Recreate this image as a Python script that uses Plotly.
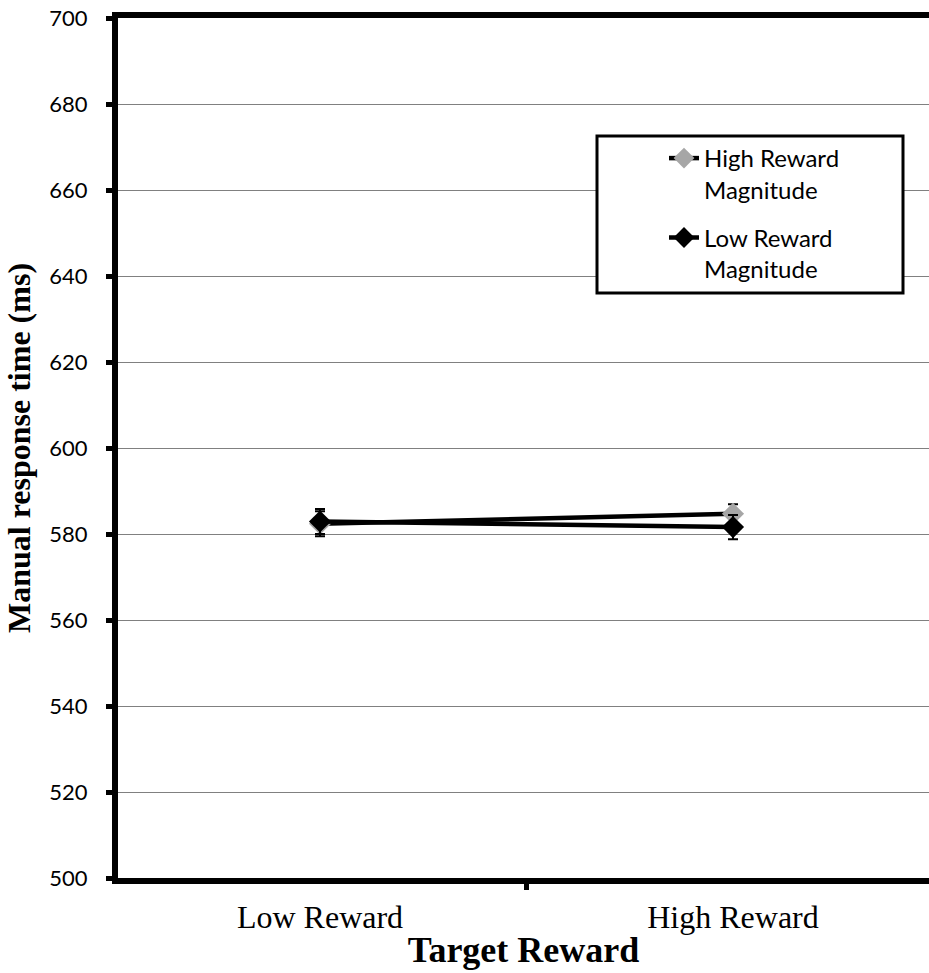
import plotly.graph_objects as go

# Mean manual response times (ms) with standard errors
categories = ["Low Reward", "High Reward"]
high_mag_rt = [582.4, 584.7]
high_mag_err = [2.9, 2.2]
low_mag_rt = [582.9, 581.6]
low_mag_err = [2.9, 2.8]
y_ticks = [500, 520, 540, 560, 580, 600, 620, 640, 660, 680, 700]

W, H = 929, 973
ML, MR, MT, MB = 118, 0, 18, 95
plot_w = W - ML - MR
plot_h = H - MT - MB
cat_px = 413  # pixel distance between the two categories
x0 = -(320 - ML) / cat_px
x1 = x0 + plot_w / cat_px


def px_x(p):
    return (p - ML) / plot_w


def px_y(p):
    return (H - MB - p) / plot_h


fig = go.Figure()

fig.add_trace(go.Scatter(
    x=categories, y=high_mag_rt, name="High Reward<br>Magnitude",
    mode="lines+markers", legendgroup="a",
    line=dict(color="black", width=4.5),
    marker=dict(symbol="diamond", size=17, color="#A6A6A6"),
    error_y=dict(type="data", array=high_mag_err, color="black", thickness=2, width=5),
))
fig.add_trace(go.Scatter(
    x=categories, y=low_mag_rt, name="Low Reward<br>Magnitude",
    mode="lines+markers", legendgroup="b",
    line=dict(color="black", width=4.5),
    marker=dict(symbol="diamond", size=17, color="black"),
    error_y=dict(type="data", array=low_mag_err, color="black", thickness=2, width=5),
))

# legend frame
fig.add_shape(type="rect", xref="paper", yref="paper",
              x0=px_x(597), x1=px_x(903), y0=px_y(293), y1=px_y(136),
              line=dict(color="black", width=3), fillcolor="white", layer="above")

fig.update_layout(
    width=W, height=H,
    margin=dict(l=ML, r=MR, t=MT, b=MB, autoexpand=False),
    paper_bgcolor="white", plot_bgcolor="white",
    showlegend=True,
    legend=dict(
        xref="paper", yref="paper",
        x=px_x(664), y=px_y(136), xanchor="left", yanchor="top",
        bgcolor="rgba(0,0,0,0)", borderwidth=0,
        font=dict(family="Lato", size=24, color="black"),
        valign="top", tracegroupgap=14,
    ),
    xaxis=dict(
        type="category",
        range=[x0, x1],
        tickson="boundaries", ticks="outside", ticklen=6, tickwidth=5, tickcolor="black",
        showline=True, linecolor="black", linewidth=6, mirror=True,
        showgrid=False, zeroline=False,
        tickfont=dict(family="Liberation Serif", size=32, color="black"),
        ticklabelstandoff=6,
        title=dict(text="<b>Target Reward</b>",
                   font=dict(family="Liberation Serif", size=36, color="black"),
                   standoff=4),
    ),
    yaxis=dict(
        range=[500, 700],
        tickmode="array", tickvals=y_ticks,
        ticks="outside", ticklen=6, tickwidth=5, tickcolor="black",
        showline=True, linecolor="black", linewidth=6,
        showgrid=True, gridcolor="#808080", gridwidth=1,
        zeroline=False,
        tickfont=dict(family="Lato", size=22, color="black"),
        ticklabelstandoff=14,
        title=dict(text="<b>Manual response time (ms)</b>",
                   font=dict(family="Liberation Serif", size=32, color="black"),
                   standoff=11),
    ),
)

fig.write_html("out.html")
